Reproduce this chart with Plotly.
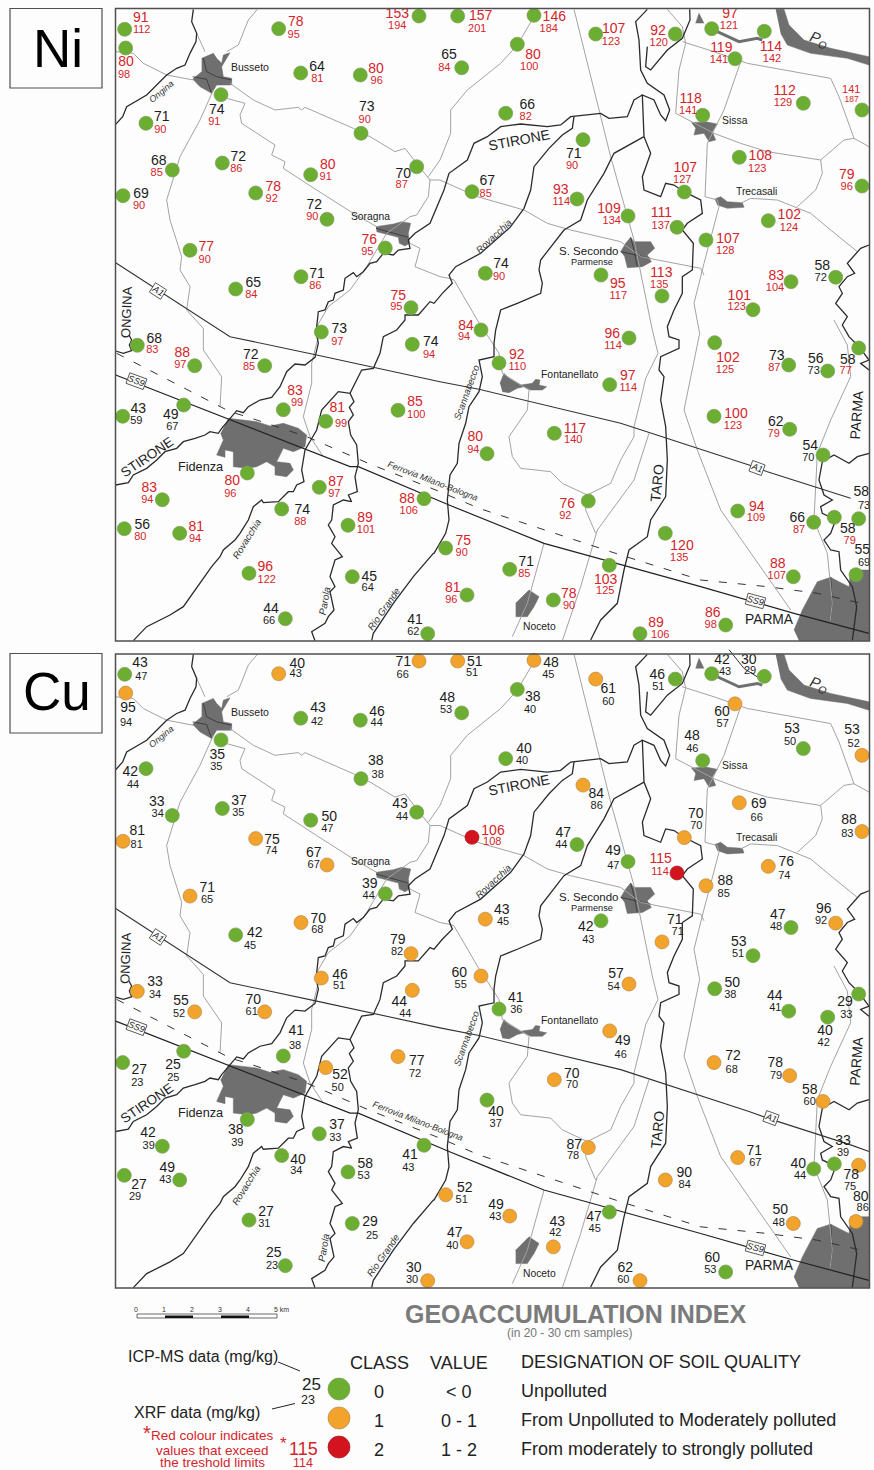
import plotly.graph_objects as go

# ---------- sampling sites (map position, same for both panels) ----------
site_x = [124.7,125.7,278.7,419,457.7,534,517.3,461.7,595.7,675.3,
711.7,764.3,735,803.3,862,702.7,505.7,583,739.3,862,
684.3,472,577,628,677,768.3,706,601,662,485.3,
835.7,791,753,481,221,300.7,360.3,361,146,172.3,
222.3,310.7,416.7,123,255.7,327,385.3,190,301,235.7,
411,321.3,412.3,137.3,194.7,264.7,122.7,183.7,283.3,325.7,
398,247.3,319.3,162.3,424,281.7,124.3,179.7,348,249,
352.3,285.3,427.7,629,714.7,788.7,827.7,858.7,499,609.7,
554.3,714,789.7,823,487,588.3,737.7,813.7,834.3,858.7,
665.3,445.7,509.7,609.3,793.3,856,467,553.3,725.7,640]
site_y = [29.3,48,28.7,16,16,15.3,44.3,67.7,34,34,
28.7,31.3,58.7,103.3,110,115.3,113.3,139.7,157.3,186,
192,191.7,199,216,227.3,220.7,240,275,296,273.3,
277.3,281.7,309.7,330,94.7,73,75,133.3,123.3,170,
163,174.7,166.7,195.7,193,219.3,248,250.3,276.7,289,
307.7,332,344.3,345.3,365.7,365.7,416.3,405,409.7,421.3,
410.3,473,487.3,499.7,498.7,509,528.7,533.3,525.3,573.3,
576.7,618.7,633.7,338,342.7,365,371,348,363,384.7,
433.3,416.3,429.3,455,453.7,501,511,522.3,517.3,518.7,
533.3,548,569.3,565.3,576.7,574.7,595,600,625,633.7]

# ---------- Ni values (mg/kg) ----------
ni_icp = [91,80,78,153,157,146,80,65,107,92,
97,114,119,112,141,118,66,71,108,79,
107,67,93,109,111,102,107,95,113,74,
58,83,101,84,74,64,80,73,71,68,
72,80,70,69,78,72,76,77,71,65,
75,73,74,68,88,72,43,49,83,81,
85,80,87,83,88,74,56,81,89,96,
45,44,41,96,102,73,56,58,92,97,
117,100,62,54,80,76,94,66,58,58,
120,75,71,103,88,55,81,78,86,89]
ni_xrf = [112,98,95,194,201,184,100,84,123,120,
121,142,141,129,187,141,82,90,123,96,
127,85,114,134,137,124,128,117,135,90,
72,104,123,94,91,81,96,90,90,85,
86,91,87,90,92,90,95,90,86,84,
95,97,94,83,97,85,59,67,99,99,
100,96,97,94,106,88,80,94,101,122,
64,66,62,114,125,87,73,77,110,114,
140,123,79,70,94,92,109,87,79,73,
135,90,85,125,107,69,96,90,98,106]

# ---------- Cu values (mg/kg) and class ----------
cu_icp = [43,95,40,71,51,48,38,48,61,46,
42,30,60,53,53,48,40,84,69,88,
70,106,47,49,115,76,88,42,71,43,
96,47,53,60,35,43,46,38,42,33,
37,50,43,81,75,67,39,71,70,42,
79,46,44,33,55,70,27,25,41,52,
77,38,37,42,41,40,27,49,58,27,
29,25,30,57,50,44,40,29,41,49,
70,72,78,58,40,87,71,40,33,78,
90,52,49,47,50,80,47,43,60,62]
cu_xrf = [47,94,43,66,51,45,40,53,60,51,
43,29,57,50,52,46,40,86,66,83,
70,108,44,47,114,74,85,43,71,45,
92,48,51,55,35,42,44,38,44,34,
35,47,44,81,74,67,44,65,68,45,
82,51,44,34,52,61,23,25,38,50,
72,39,33,39,43,34,29,43,53,31,
25,23,30,54,38,41,42,33,36,46,
70,68,79,60,37,78,67,44,39,75,
84,51,43,45,48,86,40,42,53,60]
cu_class = [0,1,1,1,1,1,0,0,1,0,
0,0,1,0,1,0,0,1,1,1,
1,2,0,0,2,1,1,0,1,1,
1,0,0,1,0,0,0,0,0,0,
0,0,0,1,1,1,0,1,1,0,
1,1,1,1,1,1,0,0,0,1,
1,0,0,0,0,0,0,0,0,0,
0,0,1,1,0,0,0,0,0,1,
1,1,1,1,0,1,1,0,0,1,
1,1,1,0,1,1,1,1,0,1]

# ---------- label anchor points ----------
ni_icp_x = [140.7,126,295.7,397.3,480.7,554.3,533,449,613.7,658,
730,771,721.3,784.7,851.3,690.7,527.3,573.7,760.3,846.7,
685.3,487.3,560.7,609,661.3,789.3,728,617.7,661.3,501,
822.3,776.3,739.3,466,216.7,317,376,366.7,161.7,158.7,
238.3,327.7,403.3,141,273.3,314.3,369.3,206.3,317,253.3,
398.3,339.3,430.7,154.3,182.3,250.7,138.3,170.7,295,337.3,
415,232.3,336,149.3,407,302.3,142.3,196.3,365,265.3,
369.3,271,415,612.3,728,776.7,815.7,847.7,516.7,627.7,
575,736,775.7,810.3,475.3,567.3,756.7,797.3,847.7,861.3,
682,463.3,526.3,605.7,777.7,862.3,452.7,568.7,712.7,656]
ni_icp_y = [18.7,62.7,22.7,14.3,16.7,17.3,55,55.7,29.3,31.3,
14.3,47.3,48,91.7,90.7,99,105.7,154,156.7,175.3,
168.3,181.3,190.3,209,213.7,215.7,239,284.3,273.3,264.7,
266.7,276.3,296,326,110.7,67,69,107.7,117.7,161.3,
157,165.7,174,194,187,205,240.3,247.7,274.3,283.3,
296.7,329.7,342.3,339,353.7,355,409.3,415.3,391.7,408.3,
402.3,481.7,482.7,488,499,510,525.7,527.3,518.7,567.7,
577,609.3,620,334,358.3,356,359,360,355.7,376.3,
429,414,422.3,446.3,437.7,504.3,507,518.3,529.3,492.7,
546,541.7,562.3,580,564.7,550.7,588.7,594,613,623.3]
ni_xrf_x = [141.7,124,293.7,397.3,477.3,548.7,529.3,444.3,611,658.7,
729,772,719,783,851.7,688.3,525.7,572,757.3,846.7,
682.3,485.7,561.3,611.7,660.7,789,725.3,618.3,659.3,499,
820.7,775,736.7,464,214.3,317.3,376.7,364.7,160.3,156.7,
236.3,325.7,401.7,139,271.7,312.3,367.3,204.7,315.3,251.3,
396.3,337.3,429,152.3,180.3,249,136.3,172.3,297,341,
416.3,230.3,334.3,147.3,408.7,300.3,140.3,195,366,266.7,
367.7,269,413.3,613,725,774.3,813.7,845.7,517.3,628.3,
573.3,733,773.7,808.3,473.3,565.3,756,799,849.7,864,
679.3,461.7,524.3,605.3,776.7,864,451.3,569,710.7,660.3]
ni_xrf_y = [30.3,75,35,26,29.3,29.3,67.3,68,42,43.7,
26.7,59.7,60,103.7,99.7,111.7,117.7,166,169,187.3,
180.7,194,202.7,221.3,226,228.3,251.3,296,285.7,277.3,
278.7,288.7,307.7,337.7,122.7,79.3,81,120,130,173.3,
169,177.7,185.7,206,199,217.7,252.3,260,286.7,295,
307.7,342,355,350.7,365.7,367,421.3,427.7,403.7,424.3,
415,494,494.7,500.3,511,522.3,537.7,539.3,530.7,580,
588.3,621,632,346,370.7,368,371,371.7,367.7,388.7,
440.7,426,434.7,458.3,450,516.7,518.7,530.7,541.7,506,
558,553.7,574,591.7,576.7,563.3,600.3,606,625.3,635.3]
cu_icp_x = [140,128,297.3,403.3,474.7,551,532.7,447.3,608.3,657.3,
722,748.7,722,792,852,692,524,596.3,758.7,849,
695.7,493,563.3,613,660.7,786.3,725.3,585.7,674.7,501.7,
823.7,777.7,738.7,459.3,217.3,318,377,375.7,130.3,156.7,
239,329.3,400,137.3,272,313.7,369.7,207.3,318.3,254.7,
397.7,340,399.3,155,181,253.3,139.3,173,296.3,340,
416.7,235.7,337,148,410,298,139,167.3,365.3,266,
370,273.7,413.7,616,732.3,774.7,825,845,515.7,622.7,
571.7,733,775.3,809.7,496,574.3,754.3,798.3,843,851.3,
684.3,464.7,496,594,780.3,860.7,454.7,557.3,712.3,625.3]
cu_icp_y = [663,708.7,664,662.7,662,663,697.7,698.3,689.3,675,
660.3,660.3,712,729,730,736.3,749,794.7,804.3,820.3,
814,831,833,851.3,859,862.7,881,927.7,920.7,910,
909.3,915,942.7,973.3,755,708,712,761,772.3,802.3,
801.3,817.7,804,831.7,840,853,884.3,888.3,919,933,
940.7,975,1002.7,982.3,1001.3,1000.3,1070.7,1065.3,1031.7,1075.3,
1061.7,1130.7,1125.3,1133.7,1155,1160.3,1185.3,1168.3,1164.3,1212,
1222.3,1253,1268.3,974,983.3,996.7,1031.7,1002.3,998,1041.7,
1074,1056,1063.7,1090,1112.3,1145.3,1151,1164.7,1141.7,1175.7,
1173.3,1188.7,1205.7,1217.3,1210.7,1197.3,1233.7,1222,1258.3,1268]
cu_xrf_x = [141.3,126,295.7,402.7,472,548.3,530,446,608.3,658.3,
725,750,722.7,790,853.7,692.3,522,596.7,756.7,847.3,
696.3,492.3,561.3,613.3,660,784.3,723.7,588.3,677.7,503,
821,776,738,460.7,216.3,317,376.7,377.7,133,157.7,
238.3,327.3,402,136.7,271.3,313.7,368.7,207,317.3,250,
397,339,405.3,155,179,251.7,137.3,173.3,295,337.7,
415,237.3,335.3,148.7,408.3,296.3,135,165.3,363.7,264.3,
372,272,412,613.7,730.3,775.3,823.7,846.3,516.3,620.7,
572,731.7,776,809.7,495.7,573,755.3,800,843,850,
684.7,461.7,495.3,594.7,778.7,862.7,452.3,555.3,710.3,623.3]
cu_xrf_y = [677,723,674.7,675,673.3,675,710,710.3,702,687,
672.7,671,724.7,742.7,744,749,761,806.7,818.3,834.3,
826,842.3,845,866,872.7,876.7,894.3,940.7,932.3,922.7,
921.7,927.7,954,985.7,767.3,722,723.3,775,785,814.3,
813,829.3,817,845.7,851,865,896.3,900.7,930,946.7,
952.7,986.7,1014.3,995.3,1014,1012.3,1083,1078.3,1046,1088.3,
1074.7,1143.3,1138.7,1146,1168.3,1171.7,1197.7,1180.3,1176.7,1224.7,
1236.7,1266,1280,987.3,995,1008.7,1043.7,1015,1010,1055,
1085.3,1070.3,1076,1102,1124.3,1156.7,1163,1176.3,1153.3,1187.3,
1185.3,1200.3,1217.3,1229,1223.3,1208.3,1246.3,1233.3,1270.7,1280.3]

for arr in (site_x, site_y, ni_icp, ni_xrf, cu_icp, cu_xrf, cu_class, ni_icp_x, ni_icp_y,
            ni_xrf_x, ni_xrf_y, cu_icp_x, cu_icp_y, cu_xrf_x, cu_xrf_y):
    assert len(arr) == 100

NI_LIMIT = 75
CU_LIMIT = 100
NI_SMALL_SITES = [14]   # the one Ni site printed in smaller type
FONT = "Liberation Sans"
RED = "#d4252b"
BLACK = "#1c1c1c"
CLASS_COLOR = {0: "#6cae32", 1: "#f2a32c", 2: "#d2141f"}
CLASS_EDGE = {0: "#7d9e58", 1: "#b98a4a", 2: "#a02028"}

# ---------- base map, traced in tiles of the Ni panel ----------
def q(ox, oy, pts):
    return [(ox + x / 3, oy + y / 3) for x, y in pts]
def q1(p): return q(0, 0, p)
def q2(p): return q(434, 0, p)
def q3(p): return q(0, 320, p)
def q4(p): return q(434, 320, p)

rivers = [
    q1([(580,28),(575,65),(590,100),(588,125),(570,160),(555,195),(530,205),(500,225),(440,285),(380,320),(368,350),(347,373)]),
    q3([(387,45),(395,60),(388,75),(395,92),(370,100),(347,93)]),
    # Stirone
    q3([(347,495),(385,488),(400,465),(440,445),(470,420),(495,395),(530,385),(550,365),(585,355),(615,345),(630,335),(655,340),(665,325),(690,295),(710,272),(730,278),(745,260),(780,240),(815,232),(840,200),(860,155),(885,132),(915,135),(945,112),(955,70),(950,45)])
    + q1([(950,980),(955,935),(975,930),(985,905),(1000,900),(1005,880),(1030,870),(1035,835),(1060,818),(1070,830),(1090,815),(1110,790),(1130,785),(1150,760),(1180,765),(1195,750),(1230,745),(1225,720),(1245,700),(1290,670),(1320,600)])
    + q2([(30,570),(45,520),(100,480),(120,430),(160,410),(200,380),(260,372),(340,380),(380,375),(410,350),(500,340),(525,355),(580,350),(600,300),(625,285)]),
    # Taro
    q2([(640,28),(605,65),(615,120),(620,210),(640,250),(690,285),(707,330),(695,362),(680,345),(660,300),(625,285),(630,410),(650,460),(625,530),(630,570),(680,590),(695,550),(720,555),(750,575),(800,600),(805,640),(760,670),(745,690),(778,730),(775,810),(745,830),(745,880),(720,930),(700,980)])
    + q4([(705,50),(735,60),(735,85),(680,110),(675,150),(690,170),(680,240),(695,320),(700,420),(695,530),(650,600),(640,650),(585,690),(570,750),(550,850),(500,900),(470,960)]),
    q2([(640,140),(635,200),(650,210),(700,150),(745,115),(768,60),(767,28)]),
    # Scannabecco
    q2([(630,410),(540,460),(510,520),(460,600),(440,660),(390,690),(320,780),(315,810),(325,850),(320,880),(250,910),(200,930),(185,990)])
    + q4([(180,70),(180,110),(135,120),(145,170),(135,215),(105,260),(95,310),(75,370),(70,430),(48,465),(40,540),(45,600),(35,640),(0,700)])
    + q3([(1300,700),(1240,770),(1180,850),(1120,940),(1115,962)]),
    # Rovacchia
    q2([(420,350),(415,385),(385,405),(345,445),(300,500),(290,570),(270,625),(230,680),(140,760),(65,800),(45,825),(55,850),(25,880),(0,910)])
    + q1([(1290,905),(1255,945),(1215,945)])
    + q3([(1215,0),(1190,30),(1150,50),(1140,100),(1125,130),(1120,145),(1085,150),(1050,220),(1015,215),(965,270),(950,330),(915,390),(905,450),(912,485),(890,495),(880,515),(865,515),(850,530),(835,545),(790,548),(785,540),(760,560),(745,600),(720,640),(705,660),(670,690),(660,710),(635,740),(600,790),(550,860),(510,885),(440,920),(400,962)]),
    # Parola
    q3([(1050,220),(1062,245),(1048,262),(1060,285),(1045,305),(1052,345),(1070,375),(1075,430),(1065,470),(1072,515),(1045,525),(1055,545),(1030,540),(1000,555),(995,600),(985,615),(1005,650),(995,670),(1027,710),(1005,720),(990,770),(1005,800),(990,815),(1002,870),(985,890),(975,910),(935,935),(945,962)]),
    # Parma
    q2([(1305,735),(1280,745),(1240,790),(1262,820),(1240,830),(1215,860),(1225,880),(1205,910),(1240,950),(1225,975)])
    + q4([(1245,50),(1275,80),(1305,120),(1280,130),(1305,150)]),
    q4([(1305,400),(1270,410),(1245,430),(1200,405),(1165,425),(1155,480),(1170,525),(1195,540),(1160,560),(1165,580),(1205,600),(1190,640),(1170,660),(1190,690),(1215,695),(1220,750),(1255,800),(1268,860),(1255,962)]),
]

roads = [
    q1([(772,28),(745,60),(715,135),(680,155)]),
    q1([(347,155),(400,160),(430,190),(500,225),(580,240)]),
    q1([(640,270),(600,360),(540,470),(500,600),(510,660),(545,770),(540,810),(570,860),(560,930),(610,985)])
    + q3([(610,90),(665,170),(660,260)]),
    q1([(590,100),(615,155)]),
    q1([(690,250),(760,300),(825,330),(895,322),(905,330),(915,322),(1060,385),(1110,410),(1185,455),(1215,445),(1250,490),(1290,540),(1320,540)])
    + q2([(130,590),(270,630),(340,670),(410,690),(560,725),(620,770),(800,805),(810,825)]),
    q1([(680,295),(735,310),(720,345),(725,370),(825,435),(815,465),(855,485),(850,505),(950,570),(1060,640),(1130,680)]),
    q1([(1290,540),(1285,590),(1250,645),(1230,650),(1160,700),(1100,800),(1050,870),(985,920),(950,980)])
    + q3([(960,30),(935,130),(935,190),(910,290),(930,350),(970,410)]),
    q1([(1230,730),(1260,745),(1245,800),(1320,830)])
    + q2([(45,835),(60,840),(130,960)])
    + q4([(150,30),(195,100),(205,160),(285,210),(280,270),(225,350),(235,410),(260,445),(350,455),(385,490),(460,525),(455,570),(485,640)]),
    q1([(1285,530),(1320,480)]) + q2([(50,400),(50,330),(100,270),(200,190),(250,135),(300,50)]),
    q2([(420,28),(530,470),(600,720),(655,990)]) + q4([(672,100),(635,175),(620,240),(600,320),(600,350),(560,420),(530,490),(460,525)]),
    q4([(645,340),(600,480),(490,630),(470,700),(440,800),(385,962)]),
    q4([(330,670),(300,780),(280,850),(235,950)]),
    q2([(700,28),(745,80),(755,130),(735,210),(725,340),(840,400),(920,430),(1000,455),(1160,480),(1165,520),(1145,570),(1090,620)]),
    q2([(745,125),(840,155),(940,190),(1190,235),(1215,290),(1260,415),(1305,440)]),
    q2([(1160,480),(1230,420),(1260,415)]),
    q2([(920,185),(870,330),(820,430),(813,590),(850,600),(855,620),(810,790),(780,910),(795,990)])
    + q4([(797,40),(750,270),(790,390),(860,570),(1070,870)]),
    q2([(920,610),(950,595),(1030,600),(1130,640),(1190,690),(1270,755)]),
    q4([(1200,0),(1240,75),(1250,170),(1190,300),(1150,400),(1140,600),(1180,700),(1195,850),(1188,905)]),
]

a1_line = q1([(347,788),(660,990)]) + q3([(690,50),(950,105),(1320,185)]) + q4([(135,208),(560,310),(945,435),(1000,455),(1250,535)])
a1_tail = q4([(1250,535),(1305,555)])
ss9_line = q3([(347,165),(690,300),(905,385),(1050,440),(1075,440),(1320,545)]) + q4([(45,555),(330,670),(800,800),(1080,880),(1305,940)])
rail_line = q3([(350,100),(690,275),(740,290),(920,350),(1105,430),(1320,515)]) + q4([(135,565),(560,705),(800,780),(1000,800),(1150,820),(1305,855)])
po_branch = q2([(850,95),(915,125),(970,115),(985,120)])
cu_branch = q2([(885,14),(930,70),(985,105)])

towns = [
    q1([(605,175),(640,160),(650,175),(665,190),(670,165),(690,158),(680,175),(665,200),(670,230),(695,235),(695,255),(650,255),(635,280),(600,260),(578,237),(605,215)]),
    q1([(1128,680),(1180,672),(1205,665),(1232,670),(1225,700),(1228,730),(1215,738),(1198,730),(1195,712),(1130,695)]),
    q3([(685,295),(770,305),(810,318),(850,310),(895,325),(920,345),(915,380),(880,395),(850,385),(830,425),(870,430),(880,450),(860,470),(825,465),(825,440),(800,425),(770,440),(745,445),(700,440),(700,395),(675,390),(675,412),(650,405),(670,360),(662,340)]),
    q2([(772,368),(815,365),(850,372),(835,395),(845,420),(825,425),(810,400),(780,405),(785,385)]),
    q2([(842,597),(860,590),(880,605),(925,608),(930,622),(880,625),(850,615)]),
    q2([(560,755),(575,730),(590,712),(600,725),(650,725),(662,745),(640,765),(652,785),(625,800),(580,803),(572,770)]),
    q4([(198,190),(210,160),(225,175),(260,195),(295,190),(305,178),(318,180),(315,195),(338,200),(325,210),(290,210),(270,200),(250,205),(225,218),(205,215)]),
    q4([(245,850),(285,810),(315,830),(300,860),(280,890),(245,890)]),
    q4([(1080,930),(1105,870),(1150,785),(1190,772),(1215,785),(1245,800),(1250,750),(1305,750),(1305,962),(1095,962)]),
    q2([(1025,28),(1050,28),(1065,75),(1110,120),(1190,145),(1305,170),(1305,195),(1240,175),(1130,160),(1060,135),(1040,100)]),
    q2([(785,70),(795,40),(810,70)]),
]
town_streets = [
    q1([(610,175),(620,215),(650,230),(695,240)]),
    q1([(578,230),(620,238),(635,280)]),
    q1([(1128,685),(1225,712)]),
    q2([(590,712),(600,750),(610,800)]),
    q2([(560,755),(650,775)]),
    q4([(1188,905),(1195,850),(1190,772)]),
]

# map labels: text, x, y (Ni panel), size, angle, italic
place_labels = [
    ("Busseto", 249.5, 67, 10.5, 0, False), ("Soragna", 370.5, 216, 10.3, 0, False),
    ("Sissa", 734.5, 120.5, 10.4, 0, False), ("Trecasali", 756, 191.5, 10.3, 0, False),
    ("S. Secondo", 588, 251, 11.5, 0, False), ("Parmense", 592, 262, 9.2, 0, False),
    ("Fontanellato", 569, 374, 10.4, 0, False), ("Fidenza", 200.5, 467, 12.7, 0, False),
    ("Noceto", 539.5, 626.5, 10.3, 0, False), ("PARMA", 769, 619, 13.8, 0, False),
    ("P<sub>O</sub>", 819, 39, 15, 20, True),
    ("STIRONE", 518.5, 140, 14, -11, False), ("STIRONE", 146.5, 457, 13.5, -34, False),
    ("ONGINA", 126, 312, 13, -88, False), ("Ongina", 161, 92, 9, -40, True),
    ("Rovacchia", 493, 236, 9.6, -43, True), ("Rovacchia", 246, 539, 9.6, -58, True),
    ("Parola", 324, 601, 9.8, -80, True), ("Rio Grande", 383, 609, 9.6, -55, True),
    ("Scannabecco", 466, 392, 9.5, -70, True),
    ("TARO", 657, 483, 14, -84, False), ("PARMA", 856.5, 415, 14, -86, False),
]

# ---------- figure ----------
fig = go.Figure()
BOTTOM_NI, TOP_NI = 641.0, 9.0
TOP_CU, BOTTOM_CU = 654.0, 1288.0

def to_ni(y):
    return y
def to_cu(y):
    return TOP_CU + (y - TOP_NI) * (BOTTOM_CU - TOP_CU) / (BOTTOM_NI - TOP_NI)

def joined(lines, ymap):
    xs, ys = [], []
    for line in lines:
        xs += [p[0] for p in line] + [None]
        ys += [ymap(p[1]) for p in line] + [None]
    return xs, ys

def add_line(lines, ymap, color, width, dash="solid"):
    xs, ys = joined(lines, ymap)
    fig.add_trace(go.Scatter(x=xs, y=ys, mode="lines", line=dict(color=color, width=width, dash=dash),
                             hoverinfo="skip", showlegend=False))

def add_text(xs, ys, vals, limit, size, sites):
    for is_red, col in ((True, RED), (False, BLACK)):
        idx = [i for i in sites if (vals[i] >= limit) == is_red]
        if idx:
            fig.add_trace(go.Scatter(
                x=[xs[i] for i in idx], y=[ys[i] for i in idx], text=[str(vals[i]) for i in idx],
                mode="text", textposition="middle center",
                textfont=dict(family=FONT, size=size, color=col), hoverinfo="skip", showlegend=False))

annotations = []
def note(text, x, y, size, color=BLACK, angle=0, italic=False, bold=False, anchor="center", **kw):
    annotations.append(dict(
        text=f"<b>{text}</b>" if bold else text, x=x, y=y, xref="x", yref="y", showarrow=False,
        xanchor=anchor, yanchor="middle", textangle=angle,
        font=dict(family=FONT, size=size, color=color, style="italic" if italic else "normal"), **kw))

def panel(ymap, classes, icp, xrf, ix, iy, xx, xy, limit, is_cu, small_sites):
    for poly in towns:
        fig.add_trace(go.Scatter(x=[p[0] for p in poly], y=[ymap(p[1]) for p in poly], mode="lines",
                                 fill="toself", fillcolor="#6f6f6f", line=dict(color="#6f6f6f", width=0.5),
                                 hoverinfo="skip", showlegend=False))
    add_line(town_streets, ymap, "#333333", 0.8)
    add_line(roads, ymap, "#a3a3a3", 1.0)
    add_line(rivers, ymap, "#2b2b2b", 1.3)
    add_line([a1_line] + ([a1_tail] if is_cu else []), ymap, "#333333", 1.1)
    add_line([ss9_line], ymap, "#222222", 1.2)
    add_line([rail_line], ymap, "#333333", 1.0, "8px,11px")
    add_line([po_branch], ymap, "#6f6f6f", 3)
    if is_cu:
        add_line([cu_branch], ymap, "#333333", 1.0)
    for c in sorted(set(classes)):
        idx = [i for i, k in enumerate(classes) if k == c]
        fig.add_trace(go.Scatter(
            x=[site_x[i] for i in idx], y=[ymap(site_y[i]) for i in idx], mode="markers",
            marker=dict(size=14, color=CLASS_COLOR[c], line=dict(color=CLASS_EDGE[c], width=0.7)),
            hoverinfo="skip", showlegend=False))
    normal = [i for i in range(100) if i not in small_sites]
    add_text(ix, iy, icp, limit, 14, normal)
    add_text(xx, xy, xrf, limit, 11, normal)
    if small_sites:
        add_text(ix, iy, icp, limit, 11, small_sites)
        add_text(xx, xy, xrf, limit, 8.5, small_sites)
    for text, x, y, size, angle, italic in place_labels:
        note(text, x, ymap(y), size, "#222222" if not italic else "#333333", angle, italic)
    box = dict(bordercolor="#444444", borderwidth=0.8, bgcolor="#fdfdfd", borderpad=0)
    a1_pos = (770.7, 1118) if is_cu else (757, 468)
    note("A1", 158, ymap(291), 9, "#222222", 33, True, **box)
    note("A1", a1_pos[0], a1_pos[1], 9, "#222222", 20, True, **box)
    note("SS9", 136, ymap(381), 9, "#222222", 20, True, **box)
    note("SS9", 755.7, ymap(601), 9, "#222222", 15, True, **box)
    rail_pos = (418, 1121) if is_cu else (433, 480.5)
    note("Ferrovia Milano-Bologna", rail_pos[0], rail_pos[1], 8.8, "#333333", 21, True)

panel(to_ni, [0] * 100, ni_icp, ni_xrf, ni_icp_x, ni_icp_y, ni_xrf_x, ni_xrf_y, NI_LIMIT, False, [i - 1 + 1 for i in NI_SMALL_SITES])
panel(to_cu, cu_class, cu_icp, cu_xrf, cu_icp_x, cu_icp_y, cu_xrf_x, cu_xrf_y, CU_LIMIT, True, [])

# ---------- legend ----------
legend_y = [1389, 1418, 1447]
for k, y in enumerate(legend_y):
    fig.add_trace(go.Scatter(x=[339], y=[y], mode="markers",
                             marker=dict(size=22, color=CLASS_COLOR[k], line=dict(color=CLASS_EDGE[k], width=0.7)),
                             hoverinfo="skip", showlegend=False))

LG = "#222222"
note("Ni", 57.5, 48, 53, "#000000")
note("Cu", 57, 691, 53, "#000000")
note("GEOACCUMULATION INDEX", 576, 1314, 25, "#7b7b7b", bold=True)
note("(in 20 - 30 cm samples)", 569, 1333, 12, "#777777")
note("ICP-MS data (mg/kg)", 203, 1356, 16, LG)
note("XRF data (mg/kg)", 197, 1412, 16, LG)
note("CLASS", 379, 1363, 18, LG)
note("VALUE", 459, 1363, 18, LG)
note("DESIGNATION OF SOIL QUALITY", 519, 1362, 18, LG, anchor="left")
for label, value, desc, y in (("0", "< 0", "Unpolluted", 1391),
                              ("1", "0 - 1", "From Unpolluted to Moderately polluted", 1420),
                              ("2", "1 - 2", "From moderately to strongly polluted", 1449)):
    note(label, 379, y + 1, 18, LG)
    note(value, 459, y + 1, 18, LG)
    note(desc, 519, y, 18, LG, anchor="left")
note("25", 311, 1384, 17, LG)
note("23", 308, 1400, 12.5, LG)
note("115", 303, 1449, 18, RED)
note("114", 303, 1463, 12.5, RED)
note("*", 283, 1443, 17, RED)
note("*", 147, 1433, 20, RED)
note("Red colour indicates", 212, 1435, 13.5, RED)
note("values that exceed", 212, 1450, 13.5, RED)
note("the treshold limits", 212, 1462.5, 13.5, RED)
for txt, x in (("0", 136), ("1", 164), ("2", 192), ("3", 220), ("4", 248), ("5 km", 281)):
    note(txt, x, 1309, 7, "#333333")

shapes = [
    dict(type="rect", x0=115.5, x1=869.5, y0=8.5, y1=641, line=dict(color="#4f4f4f", width=1.5)),
    dict(type="rect", x0=115.5, x1=869.5, y0=654, y1=1288, line=dict(color="#4f4f4f", width=1.5)),
    dict(type="rect", x0=10, x1=102, y0=8.5, y1=88, line=dict(color="#4f4f4f", width=1.2)),
    dict(type="rect", x0=10, x1=102, y0=653.5, y1=733, line=dict(color="#4f4f4f", width=1.2)),
    dict(type="line", x0=278, x1=300, y0=1362, y1=1371, line=dict(color="#222222", width=1)),
    dict(type="line", x0=272, x1=295, y0=1409, y1=1403.5, line=dict(color="#222222", width=1)),
    dict(type="rect", x0=137, x1=277, y0=1314, y1=1318, line=dict(color="#444444", width=0.8)),
    dict(type="rect", x0=165, x1=193, y0=1315.5, y1=1318, fillcolor="#111111", line=dict(width=0)),
    dict(type="rect", x0=221, x1=249, y0=1315.5, y1=1318, fillcolor="#111111", line=dict(width=0)),
]

fig.update_layout(
    width=874, height=1470, margin=dict(l=0, r=0, t=0, b=0),
    paper_bgcolor="#fdfdfd", plot_bgcolor="#fdfdfd",
    xaxis=dict(range=[0, 874], visible=False, fixedrange=True),
    yaxis=dict(range=[1470, 0], visible=False, fixedrange=True),
    annotations=annotations, shapes=shapes, showlegend=False, hovermode=False,
)
fig.write_html("out.html", config=dict(displayModeBar=False),
               post_script="document.body.style.margin='0';document.body.style.overflow='hidden';")
